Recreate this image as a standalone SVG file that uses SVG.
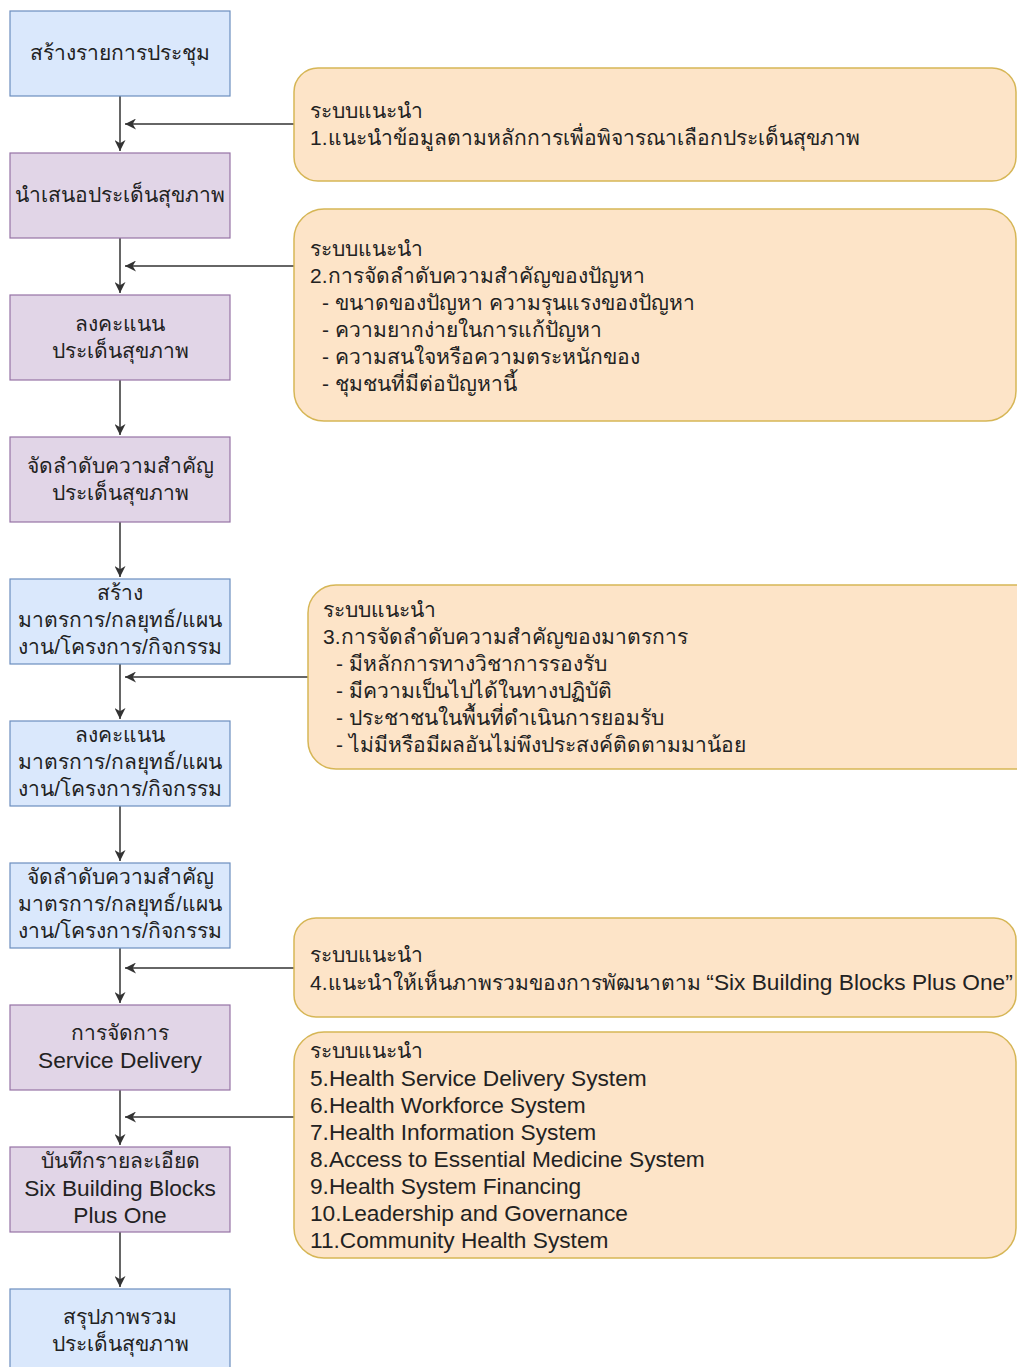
<svg xmlns="http://www.w3.org/2000/svg" width="1017" height="1367" viewBox="0 0 1017 1367">
<defs>
<marker id="ah" viewBox="0 0 10 10" refX="10" refY="5" markerWidth="11" markerHeight="11" markerUnits="userSpaceOnUse" orient="auto">
<path d="M0,0 L10,5 L0,10 L3,5 Z" fill="#333"/>
</marker>
<style>
.blue{fill:#dae8fc;stroke:#6c8ebf;stroke-width:1.2}
.purple{fill:#e1d5e7;stroke:#9673a6;stroke-width:1.2}
.note{fill:#fde4c8;stroke:#d6b656;stroke-width:1.5}
.t{font-family:"Liberation Sans","Noto Sans","DejaVu Sans",sans-serif;font-size:21px;fill:#222}
.l{font-size:22.7px}
.c{text-anchor:middle}
.e{stroke:#333;stroke-width:1.5;fill:none;marker-end:url(#ah)}
</style>
</defs>
<rect width="1017" height="1367" fill="#fff"/>
<g id="connectors">
<line class="e" x1="120" y1="96" x2="120" y2="151"/>
<line class="e" x1="120" y1="238" x2="120" y2="293"/>
<line class="e" x1="120" y1="380" x2="120" y2="435"/>
<line class="e" x1="120" y1="522" x2="120" y2="577"/>
<line class="e" x1="120" y1="664" x2="120" y2="719"/>
<line class="e" x1="120" y1="806" x2="120" y2="861"/>
<line class="e" x1="120" y1="948" x2="120" y2="1003"/>
<line class="e" x1="120" y1="1090" x2="120" y2="1145"/>
<line class="e" x1="120" y1="1232" x2="120" y2="1287"/>
<line class="e" x1="294" y1="124" x2="125" y2="124"/>
<line class="e" x1="294" y1="266" x2="125" y2="266"/>
<line class="e" x1="308" y1="677" x2="125" y2="677"/>
<line class="e" x1="294" y1="968" x2="125" y2="968"/>
<line class="e" x1="294" y1="1117" x2="125" y2="1117"/>
</g>
<g id="n1"><rect class="blue" x="10" y="11" width="220" height="85"/>
<text class="t c" x="120" y="60">สร้างรายการประชุม</text></g>
<g id="n2"><rect class="purple" x="10" y="153" width="220" height="85"/>
<text class="t c" x="120" y="202">นำเสนอประเด็นสุขภาพ</text></g>
<g id="n3"><rect class="purple" x="10" y="295" width="220" height="85"/>
<text class="t c" x="120" y="331">ลงคะแนน</text><text class="t c" x="120" y="358">ประเด็นสุขภาพ</text></g>
<g id="n4"><rect class="purple" x="10" y="437" width="220" height="85"/>
<text class="t c" x="120" y="473">จัดลำดับความสำคัญ</text><text class="t c" x="120" y="500">ประเด็นสุขภาพ</text></g>
<g id="n5"><rect class="blue" x="10" y="579" width="220" height="85"/>
<text class="t c" x="120" y="600">สร้าง</text><text class="t c" x="120" y="627">มาตรการ/กลยุทธ์/แผน</text><text class="t c" x="120" y="654">งาน/โครงการ/กิจกรรม</text></g>
<g id="n6"><rect class="blue" x="10" y="721" width="220" height="85"/>
<text class="t c" x="120" y="742">ลงคะแนน</text><text class="t c" x="120" y="769">มาตรการ/กลยุทธ์/แผน</text><text class="t c" x="120" y="796">งาน/โครงการ/กิจกรรม</text></g>
<g id="n7"><rect class="blue" x="10" y="863" width="220" height="85"/>
<text class="t c" x="120" y="884">จัดลำดับความสำคัญ</text><text class="t c" x="120" y="911">มาตรการ/กลยุทธ์/แผน</text><text class="t c" x="120" y="938">งาน/โครงการ/กิจกรรม</text></g>
<g id="n8"><rect class="purple" x="10" y="1005" width="220" height="85"/>
<text class="t c" x="120" y="1040">การจัดการ</text><text class="t l c" x="120" y="1068">Service Delivery</text></g>
<g id="n9"><rect class="purple" x="10" y="1147" width="220" height="85"/>
<text class="t c" x="120" y="1168">บันทึกรายละเอียด</text><text class="t l c" x="120" y="1196">Six Building Blocks</text><text class="t l c" x="120" y="1223">Plus One</text></g>
<g id="n10"><rect class="blue" x="10" y="1289" width="220" height="85"/>
<text class="t c" x="120" y="1324">สรุปภาพรวม</text><text class="t c" x="120" y="1351">ประเด็นสุขภาพ</text></g>
<g id="note1"><rect class="note" x="294" y="68" width="722" height="113" rx="24"/>
<text class="t" x="310" y="118">ระบบแนะนำ</text>
<text class="t" x="310" y="145">1.แนะนำข้อมูลตามหลักการเพื่อพิจารณาเลือกประเด็นสุขภาพ</text></g>
<g id="note2"><rect class="note" x="294" y="209" width="722" height="212" rx="30"/>
<text class="t" x="310" y="256">ระบบแนะนำ</text>
<text class="t" x="310" y="283">2.การจัดลำดับความสำคัญของปัญหา</text>
<text class="t" x="322" y="310">- ขนาดของปัญหา ความรุนแรงของปัญหา</text>
<text class="t" x="322" y="337">- ความยากง่ายในการแก้ปัญหา</text>
<text class="t" x="322" y="364">- ความสนใจหรือความตระหนักของ</text>
<text class="t" x="322" y="391">- ชุมชนที่มีต่อปัญหานี้</text></g>
<g id="note3"><rect class="note" x="308" y="585" width="740" height="184" rx="28"/>
<text class="t" x="323" y="617">ระบบแนะนำ</text>
<text class="t" x="323" y="644">3.การจัดลำดับความสำคัญของมาตรการ</text>
<text class="t" x="336" y="671">- มีหลักการทางวิชาการรองรับ</text>
<text class="t" x="336" y="698">- มีความเป็นไปได้ในทางปฏิบัติ</text>
<text class="t" x="336" y="725">- ประชาชนในพื้นที่ดำเนินการยอมรับ</text>
<text class="t" x="336" y="752">- ไม่มีหรือมีผลอันไม่พึงประสงค์ติดตามมาน้อย</text></g>
<g id="note4"><rect class="note" x="294" y="918" width="722" height="99" rx="22"/>
<text class="t" x="310" y="962">ระบบแนะนำ</text>
<text class="t" x="310" y="990">4.แนะนำให้เห็นภาพรวมของการพัฒนาตาม <tspan class="l">“Six Building Blocks Plus One”</tspan></text></g>
<g id="note5"><rect class="note" x="294" y="1032" width="722" height="226" rx="30"/>
<text class="t" x="310" y="1058">ระบบแนะนำ</text>
<text class="t l" x="310" y="1086">5.Health Service Delivery System</text>
<text class="t l" x="310" y="1113">6.Health Workforce System</text>
<text class="t l" x="310" y="1140">7.Health Information System</text>
<text class="t l" x="310" y="1167">8.Access to Essential Medicine System</text>
<text class="t l" x="310" y="1194">9.Health System Financing</text>
<text class="t l" x="310" y="1221">10.Leadership and Governance</text>
<text class="t l" x="310" y="1248">11.Community Health System</text></g>
</svg>
